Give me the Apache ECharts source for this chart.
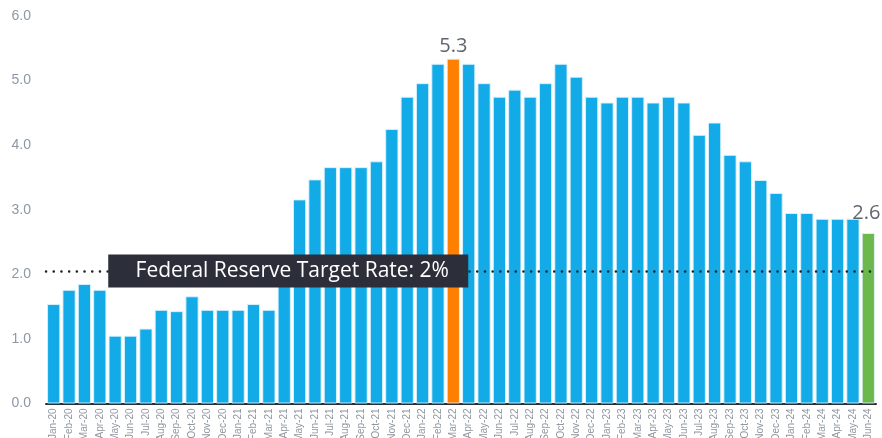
<!DOCTYPE html>
<html>
<head>
<meta charset="utf-8">
<script src="https://cdn.jsdelivr.net/npm/echarts@6/dist/echarts.min.js"></script>
<style>
html,body{margin:0;padding:0;background:#fff;}
#c{width:882px;height:438px;}
</style>
</head>
<body>
<div id="c"></div>
<script>
const categories = ['Jan-20','Feb-20','Mar-20','Apr-20','May-20','Jun-20','Jul-20','Aug-20','Sep-20','Oct-20','Nov-20','Dec-20',
  'Jan-21','Feb-21','Mar-21','Apr-21','May-21','Jun-21','Jul-21','Aug-21','Sep-21','Oct-21','Nov-21','Dec-21',
  'Jan-22','Feb-22','Mar-22','Apr-22','May-22','Jun-22','Jul-22','Aug-22','Sep-22','Oct-22','Nov-22','Dec-22',
  'Jan-23','Feb-23','Mar-23','Apr-23','May-23','Jun-23','Jul-23','Aug-23','Sep-23','Oct-23','Nov-23','Dec-23',
  'Jan-24','Feb-24','Mar-24','Apr-24','May-24','Jun-24'];
const values = [1.54,1.76,1.85,1.76,1.05,1.05,1.16,1.45,1.43,1.66,1.45,1.45,
  1.45,1.54,1.45,2.1,3.16,3.47,3.66,3.66,3.66,3.75,4.25,4.75,
  4.96,5.26,5.34,5.26,4.96,4.75,4.86,4.75,4.96,5.26,5.06,4.75,
  4.66,4.75,4.75,4.66,4.75,4.66,4.16,4.35,3.85,3.75,3.46,3.26,
  2.95,2.95,2.86,2.86,2.86,2.64];
const yTicks = [0,1,2,3,4,5,6];
const peakCategory = 'Mar-22';
const latestCategory = 'Jun-24';
const targetRate = 2.05;
const targetLabel = 'Federal Reserve Target Rate: 2%';

const BLUE = '#12abe8', ORANGE = '#ff8000', GREEN = '#6cb84c';
const labelBase = {show:true, position:'top', color:'#5f6670', fontSize:20,
  fontFamily:'Open Sans, Liberation Sans, Arial, sans-serif', formatter: p => p.value.toFixed(1)};
const data = values.map((v,i) => {
  const c = categories[i];
  if (c === peakCategory) return {value:v, itemStyle:{color:ORANGE}, label:Object.assign({}, labelBase, {distance:2})};
  if (c === latestCategory) return {value:v, itemStyle:{color:GREEN}, label:Object.assign({}, labelBase, {distance:10, offset:[-2,0]})};
  return {value:v};
});

const chart = echarts.init(document.getElementById('c'), null, {renderer:'canvas'});
chart.setOption({
  animation:false,
  backgroundColor:'#fff',
  grid:{left:46, right:6, top:16, bottom:34.5, outerBoundsMode:'none', containLabel:false},
  xAxis:{
    type:'category', data:categories,
    axisLine:{show:true, lineStyle:{color:'#2a2d33', width:2}},
    axisTick:{show:false},
    axisLabel:{rotate:90, interval:0, fontSize:10, color:'#8f979f', margin:5,
      fontFamily:'Liberation Sans, Arial, sans-serif'}
  },
  yAxis:{
    type:'value', min:yTicks[0], max:yTicks[yTicks.length-1], interval:1,
    splitLine:{show:false}, axisLine:{show:false}, axisTick:{show:false},
    axisLabel:{fontSize:14, color:'#8d98a6', margin:15,
      fontFamily:'Liberation Sans, Arial, sans-serif', formatter: v => v.toFixed(1)}
  },
  series:[{
    type:'bar', data:data, barCategoryGap:'14%',
    itemStyle:{color:BLUE, borderColor:'rgba(220,242,252,0.9)', borderWidth:1},
    markLine:{
      silent:true, symbol:['none','none'],
      label:{show:false},
      lineStyle:{color:'#222', width:2.5, type:[0.1,7.6], cap:'round'},
      data:[{yAxis:targetRate}],
      z:5
    },
    markPoint:{
      silent:true,
      symbol:'rect', symbolSize:[360,33], symbolOffset:[4,0],
      itemStyle:{color:'#2c2f3a', borderWidth:0},
      label:{show:true, position:'inside', color:'#fff', fontSize:21, offset:[4,0],
        fontFamily:'Open Sans, Liberation Sans, Arial, sans-serif', formatter: targetLabel},
      data:[{coord:['Apr-21', targetRate]}],
      z:10
    }
  }]
});
</script>
</body>
</html>
